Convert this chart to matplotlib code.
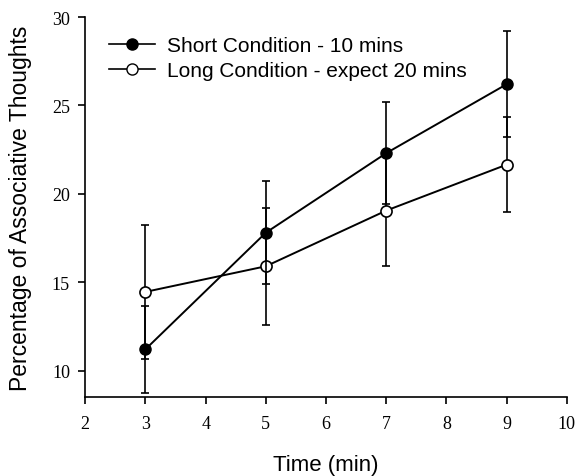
import matplotlib.pyplot as plt
from matplotlib.lines import Line2D

# time points (min)
times = [3, 5, 7, 9]

# mean percentage of associative thoughts
short_mean = [11.2, 17.8, 22.3, 26.2]
long_mean = [14.45, 15.9, 19.05, 21.65]

# standard errors
short_err = [2.45, 2.9, 2.9, 3.0]
long_err = [3.8, 3.3, 3.15, 2.7]

x_ticks = [2, 3, 4, 5, 6, 7, 8, 9, 10]
y_ticks = [10, 15, 20, 25, 30]


def main():
    fig = plt.figure(figsize=(5.76, 4.77), dpi=100)
    ax = fig.add_axes([0.148, 0.1656, 0.836, 0.7964])

    ax.errorbar(times, long_mean, yerr=long_err, color='black', linewidth=1.4,
                elinewidth=1.2, capsize=3, capthick=1.2, marker='o',
                markersize=8, markerfacecolor='white', markeredgecolor='black',
                markeredgewidth=1.2, zorder=3)
    ax.errorbar(times, short_mean, yerr=short_err, color='black', linewidth=1.4,
                elinewidth=1.2, capsize=3, capthick=1.2, marker='o',
                markersize=8, markerfacecolor='black', markeredgecolor='black',
                zorder=4)

    ax.set_xlim(2, 10)
    ax.set_ylim(8.5, 30)
    ax.set_xticks(x_ticks)
    ax.set_yticks(y_ticks)
    ax.spines['top'].set_visible(False)
    ax.spines['right'].set_visible(False)
    ax.spines['left'].set_linewidth(1.2)
    ax.spines['bottom'].set_linewidth(1.2)
    ax.tick_params(direction='out', length=5, width=1.2, labelsize=13)
    ax.tick_params(axis='x', pad=8)
    ax.tick_params(axis='y', pad=6)
    for lab in ax.get_xticklabels() + ax.get_yticklabels():
        lab.set_family('Liberation Serif')

    ax.set_xlabel('Time (min)', fontsize=16, family='Liberation Sans', labelpad=16)
    ax.set_ylabel('Percentage of Associative Thoughts', fontsize=16.5,
                  family='Liberation Sans', labelpad=14)

    handles = [
        Line2D([], [], color='black', linewidth=1.2, marker='o', markersize=8,
               markerfacecolor='black', markeredgecolor='black'),
        Line2D([], [], color='black', linewidth=1.2, marker='o', markersize=8,
               markerfacecolor='white', markeredgecolor='black'),
    ]
    labels = ['Short Condition - 10 mins', 'Long Condition - expect 20 mins']
    ax.legend(handles, labels, loc='upper left',
              bbox_to_anchor=(0.01, 1.0), frameon=False,
              prop={'family': 'Liberation Sans', 'size': 15},
              handlelength=2.2, handletextpad=0.6, labelspacing=0.3)

    fig.savefig('out.png', dpi=100)


if __name__ == "__main__":
    main()
